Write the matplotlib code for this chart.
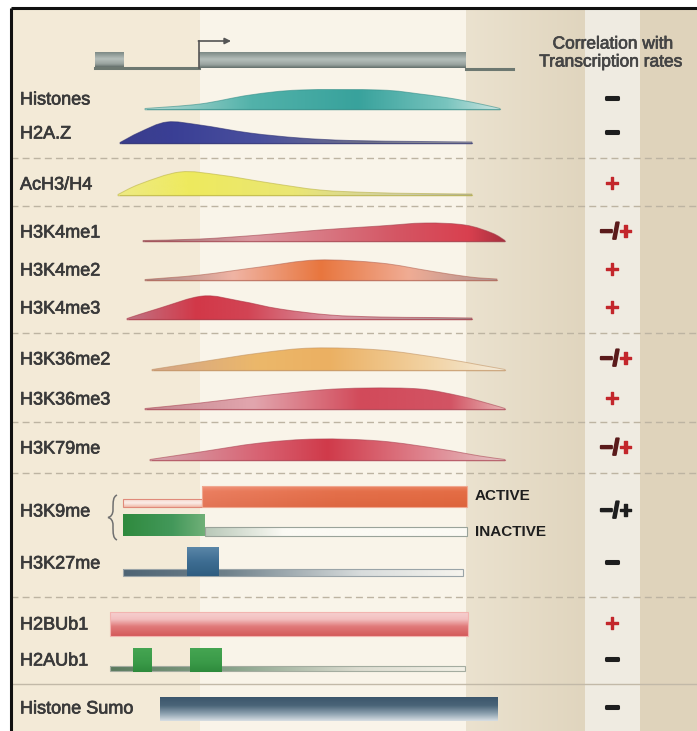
import numpy as np
import matplotlib
matplotlib.use("Agg")
import matplotlib.pyplot as plt
from matplotlib.path import Path
from matplotlib.patches import PathPatch, Rectangle
from matplotlib.colors import LinearSegmentedColormap
import matplotlib.patheffects as pe

plt.rcParams['font.family'] = ['Liberation Sans', 'DejaVu Sans']

# ---------------- data ----------------
track_names = ["Histones", "H2A.Z", "AcH3/H4", "H3K4me1", "H3K4me2", "H3K4me3",
               "H3K36me2", "H3K36me3", "H3K79me", "H3K9me", "H3K27me",
               "H2BUb1", "H2AUb1", "Histone Sumo"]
track_rows = [100, 134, 185, 233, 271, 309, 360, 400, 449, 512, 564, 625, 661, 709]
correlations = ["−", "−", "+", "−/+", "+", "+", "−/+", "+", "−/+", "−/+", "−",
                "+", "−", "−"]

separator_rows = [158, 206, 333, 422, 473, 597]
solid_separator_row = 684

# profile outlines: (position, height), with baseline
profile_names = ["Histones", "H2A.Z", "AcH3/H4", "H3K4me1", "H3K4me2", "H3K4me3",
                 "H3K36me2", "H3K36me3", "H3K79me"]
profile_baselines = [109, 143, 195, 241, 280, 319, 370, 409, 460]
profile_points = [
    [(145, 0.5), (200, 5), (250, 14), (300, 19), (380, 19), (420, 15), (455, 10), (485, 4), (500, 0.5)],
    [(120, 0.5), (140, 11), (167, 21), (200, 18), (250, 10), (300, 5), (350, 2.5), (420, 1.5), (472, 1)],
    [(118, 0.5), (140, 11), (180, 23), (220, 20), (270, 12), (320, 5), (370, 2.5), (420, 1.5), (472, 1)],
    [(143, 0.5), (200, 2), (260, 6), (320, 11), (380, 15), (425, 18), (465, 16), (492, 8), (505, 0.5)],
    [(145, 0.5), (200, 5), (260, 13), (317, 20), (380, 17), (430, 9), (470, 3), (497, 1)],
    [(127, 0.5), (160, 11), (203, 23), (240, 18), (280, 10), (330, 4), (380, 2), (430, 1.5), (472, 1)],
    [(152, 0.5), (200, 8), (260, 17), (313, 22), (380, 20), (440, 12), (480, 5), (505, 0.5)],
    [(145, 0.5), (200, 6), (260, 13), (320, 19), (367, 21), (420, 20), (460, 13), (490, 5), (505, 0.5)],
    [(150, 0.5), (200, 8), (260, 17), (317, 21), (380, 19), (440, 11), (480, 4), (505, 0.5)],
]
profile_gradients = [
    [(0, '#b9dcd5'), (0.3, '#52b2aa'), (0.6, '#38a29c'), (0.85, '#78c4be'), (1, '#cde6e2')],
    [(0, '#3a3d8c'), (0.15, '#3a3f95'), (0.4, '#4a509e'), (0.7, '#6f7088'), (1, '#a0a0a0')],
    [(0, '#eeea84'), (0.2, '#eeea5e'), (0.5, '#eae674'), (0.8, '#cfcea8'), (1, '#b4b4a4')],
    [(0, '#9a7070'), (0.3, '#dc98a0'), (0.7, '#d45664'), (0.9, '#d9404f'), (1, '#a8303f')],
    [(0, '#a88888'), (0.25, '#f0b4a4'), (0.5, '#e8763e'), (0.75, '#f0ac94'), (1, '#b09494')],
    [(0, '#c07484'), (0.2, '#d23848'), (0.35, '#d24454'), (0.6, '#da96a4'), (1, '#a09494')],
    [(0, '#d4a688'), (0.3, '#ecb86a'), (0.5, '#ebb062'), (0.8, '#f2d4a6'), (1, '#f4ecdc')],
    [(0, '#c48890'), (0.3, '#e2a6ae'), (0.6, '#d24a5a'), (0.85, '#d25464'), (1, '#e8b4b4')],
    [(0, '#d6a8b0'), (0.3, '#d86474'), (0.5, '#d03a4a'), (0.8, '#e08a94'), (1, '#e4c4c4')],
]
profile_edges = ['#2f8a85', '#2a2d70', '#b8b040', '#a0404c', '#b06050', '#a83040',
                 '#c09060', '#a84050', '#a84050']

# gene model
exon_upstream = [95, 124, 52, 67]
gene_body = [199, 466, 52, 68]
gene_line = [95, 513]
tss_x = 199

# H3K9me / H3K27me / ubiquitin / sumo bars  [x0, x1, y0, y1]
k9_active_bar = [202, 467, 486, 507]
k9_active_tube = [123, 202, 499, 507]
k9_inactive_bar = [123, 205, 514, 536]
k9_inactive_tube = [205, 467, 527, 536]
k27_tube = [123, 463, 569, 576]
k27_box = [187, 219, 547, 576]
h2bub1_bar = [110, 468, 612, 636]
h2aub1_tube = [110, 465, 666, 671]
h2aub1_boxes = [[133, 152, 648, 672], [190, 222, 648, 672]]
sumo_bar = [160, 498, 697, 721]

# background column edges and colors
bg_edges = [11, 200, 466, 585, 640, 697]
bg_colors = ['#f3ead7', '#f9f4e9', '#e6dcc7', '#efebe1', '#dfd3bb']

# ---------------- drawing ----------------
W, H = 697, 731
fig = plt.figure(figsize=(W / 100, H / 100), dpi=100, facecolor='white')
ax = fig.add_axes([0, 0, 1, 1])
ax.axis('off')


def make_cmap(stops):
    return LinearSegmentedColormap.from_list('g', stops)


def grad_rect(x0, x1, y0, y1, stops, vertical=False, clip=None, z=2):
    v = np.linspace(0, 1, 256)
    img = v.reshape(-1, 1) if vertical else v.reshape(1, -1)
    im = ax.imshow(img, extent=(x0, x1, y1, y0), cmap=make_cmap(stops),
                   aspect='auto', interpolation='bicubic', zorder=z, origin='upper')
    if clip is not None:
        im.set_clip_path(clip)
    return im


# background
for i, c in enumerate(bg_colors):
    if i == 2:
        grad_rect(bg_edges[i], bg_edges[i + 1], 8, H, [(0, '#ebe2cf'), (1, '#e0d5be')], z=0)
    else:
        ax.add_patch(Rectangle((bg_edges[i], 8), bg_edges[i + 1] - bg_edges[i], H - 8,
                               facecolor=c, edgecolor='none', zorder=0))

# separators
for y in separator_rows:
    ax.plot([11, W], [y, y], color='#bdb4a2', lw=1, ls=(0, (5, 3)), zorder=1)
ax.plot([11, W], [solid_separator_row] * 2, color='#c2b9a8', lw=1, zorder=1)

# border
ax.plot([11, W], [8, 8], color='#111111', lw=2.2, zorder=10, solid_capstyle='butt')
ax.plot([11, 11], [8, H], color='#111111', lw=2.2, zorder=10, solid_capstyle='butt')

# gene model
ax.plot([gene_line[0], tss_x], [68, 68], color='#6d7871', lw=2.2, zorder=3)
ax.plot([gene_body[1], gene_line[1]], [68.5, 68.5], color='#6d7871', lw=2.2, zorder=3)
box_stops = [(0, '#7b8884'), (0.45, '#b6bfbb'), (0.8, '#98a29e'), (1, '#5f6b67')]
for b in (exon_upstream, gene_body):
    grad_rect(b[0], b[1], b[2], b[3], box_stops, vertical=True, z=3)
ax.plot([tss_x, tss_x], [68, 41], color='#555555', lw=1.2, zorder=4)
ax.annotate('', xy=(231, 41), xytext=(tss_x - 0.6, 41),
            arrowprops=dict(arrowstyle='-|>', color='#555555', lw=1.2,
                            mutation_scale=9, shrinkA=0, shrinkB=0), zorder=4)

# header
hdr_fx = [pe.withStroke(linewidth=0.5, foreground='#454545')]
ax.text(613, 44, "Correlation with", ha='center', va='center', fontsize=12.5,
        color='#454545', zorder=5, path_effects=hdr_fx)
ax.text(611, 62, "Transcription rates", ha='center', va='center', fontsize=12.5,
        color='#454545', zorder=5, path_effects=hdr_fx)


def profile_path(pts, base):
    P = np.array([(x, base - h) for x, h in pts], dtype=float)
    n = len(P)
    verts = [P[0]]
    codes = [Path.MOVETO]
    for i in range(n - 1):
        p0 = P[max(i - 1, 0)]
        p1 = P[i]
        p2 = P[i + 1]
        p3 = P[min(i + 2, n - 1)]
        c1 = p1 + (p2 - p0) / 6.0
        c2 = p2 - (p3 - p1) / 6.0
        verts += [c1, c2, p2]
        codes += [Path.CURVE4] * 3
    verts += [(P[-1][0], base + 0.8), (P[0][0], base + 0.8), P[0]]
    codes += [Path.LINETO, Path.LINETO, Path.CLOSEPOLY]
    return Path(verts, codes)


for pts, base, stops, ec in zip(profile_points, profile_baselines, profile_gradients,
                                profile_edges):
    path = profile_path(pts, base)
    patch = PathPatch(path, facecolor='none', edgecolor=ec, lw=0.7, alpha=0.55, zorder=4)
    ax.add_patch(patch)
    clip = PathPatch(path, facecolor='none', edgecolor='none', transform=ax.transData)
    ax.add_patch(clip)
    x0 = pts[0][0]
    x1 = pts[-1][0]
    top = base - max(h for _, h in pts) - 1
    grad_rect(x0, x1, top, base + 1, stops, clip=clip, z=3)
    ax.plot([x0 + 2, x1], [base, base], color=ec, lw=0.8, alpha=0.5, zorder=4)


def tube(b, stops, ec, vertical=False, z=3, lw=0.8):
    grad_rect(b[0], b[1], b[2], b[3], stops, vertical=vertical, z=z)
    ax.add_patch(Rectangle((b[0], b[2]), b[1] - b[0], b[3] - b[2], facecolor='none',
                           edgecolor=ec, lw=lw, zorder=z + 0.1))


# H3K9me
tube(k9_active_tube, [(0, '#f6d8d0'), (0.5, '#fbeee8'), (1, '#f0b8a8')], '#e08a7a', vertical=True)
grad_rect(k9_active_bar[0], k9_active_bar[1], k9_active_bar[2], k9_active_bar[3],
          [(0, '#ee8a74'), (0.5, '#e36e4a'), (1, '#e2683e')], z=3)
grad_rect(k9_active_bar[0], k9_active_bar[1], k9_active_bar[2], k9_active_bar[3],
          [(0, '#f4a48c'), (0.25, '#e8744e'), (1, '#d8603a')], vertical=True, z=3.05).set_alpha(0.5)
ax.add_patch(Rectangle((k9_active_bar[0], k9_active_bar[2]), k9_active_bar[1] - k9_active_bar[0],
                       k9_active_bar[3] - k9_active_bar[2], facecolor='none',
                       edgecolor='#f0a890', lw=0.8, zorder=3.1))
tube(k9_inactive_tube, [(0, '#b8c8b8'), (0.3, '#fbfaf4'), (1, '#fbfaf4')], '#9aa39a')
grad_rect(k9_inactive_bar[0], k9_inactive_bar[1], k9_inactive_bar[2], k9_inactive_bar[3],
          [(0, '#2f8a3e'), (0.6, '#43985a'), (1, '#70b078')], z=3)

# brace
bx = 112
brace = Path([(bx + 5, 495), (bx + 1, 497), (bx + 1, 501), (bx + 1, 510),
              (bx + 1, 514), (bx - 1, 517), (bx - 4, 517.5),
              (bx - 1, 518), (bx + 1, 521), (bx + 1, 525),
              (bx + 1, 534), (bx + 1, 538), (bx + 5, 540)],
             [Path.MOVETO, Path.CURVE4, Path.CURVE4, Path.CURVE4,
              Path.CURVE4, Path.CURVE4, Path.CURVE4,
              Path.CURVE4, Path.CURVE4, Path.CURVE4,
              Path.CURVE4, Path.CURVE4, Path.CURVE4])
ax.add_patch(PathPatch(brace, facecolor='none', edgecolor='#707070', lw=1.1, zorder=4))

ax.text(475, 496, "ACTIVE", ha='left', va='center', fontsize=11, fontweight='bold',
        color='#1e1e1e', zorder=5)
ax.text(475, 532, "INACTIVE", ha='left', va='center', fontsize=11, fontweight='bold',
        color='#1e1e1e', zorder=5)

# H3K27me
tube(k27_tube, [(0, '#4e6474'), (0.3, '#6e808a'), (0.7, '#d8dcdc'), (1, '#f6f4ee')], '#9aa4a8')
grad_rect(k27_box[0], k27_box[1], k27_box[2], k27_box[3],
          [(0, '#5a86a8'), (0.5, '#3d6d92'), (1, '#2f5d80')], vertical=True, z=3.2)

# H2BUb1
grad_rect(h2bub1_bar[0], h2bub1_bar[1], h2bub1_bar[2], h2bub1_bar[3],
          [(0, '#f6d0d0'), (0.3, '#f3c0c0'), (0.6, '#e07a7a'), (1, '#d45a5a')],
          vertical=True, z=3)
ax.add_patch(Rectangle((h2bub1_bar[0], h2bub1_bar[2]), h2bub1_bar[1] - h2bub1_bar[0],
                       h2bub1_bar[3] - h2bub1_bar[2], facecolor='none',
                       edgecolor='#f2b4b0', lw=0.8, zorder=3.1))

# H2AUb1
tube(h2aub1_tube, [(0, '#5a7a5e'), (0.35, '#8aa48c'), (0.7, '#dcdcd0'), (1, '#f2f0e6')], '#a4aca0')
for b in h2aub1_boxes:
    grad_rect(b[0], b[1], b[2], b[3], [(0, '#45a552'), (0.6, '#3a9a48'), (1, '#2e8a3c')],
              vertical=True, z=3.2)

# Histone Sumo
grad_rect(sumo_bar[0], sumo_bar[1], sumo_bar[2], sumo_bar[3],
          [(0, '#3c566c'), (0.35, '#4a6478'), (0.7, '#8ea2b0'), (1, '#d8dfe4')],
          vertical=True, z=3)

# labels and correlation signs
lbl_fx = [pe.withStroke(linewidth=0.5, foreground='#3a3a3a')]
for name, y, sign in zip(track_names, track_rows, correlations):
    ax.text(20, y, name, ha='left', va='center', fontsize=13, color='#3a3a3a', zorder=5,
            path_effects=lbl_fx)
    if sign == "+":
        ax.text(612, y, "+", ha='center', va='center', fontsize=16, fontweight='bold',
                color='#c3262b', zorder=5, path_effects=[pe.withStroke(linewidth=1.0, foreground='#c3262b')])
    elif sign == "−":
        ax.text(612, y, "−", ha='center', va='center', fontsize=16, fontweight='bold',
                color='#1e1e1e', zorder=5, path_effects=[pe.withStroke(linewidth=2.2, foreground='#1e1e1e')])
    else:
        dark = '#1e1e1e' if name == "H3K9me" else '#5a1a1a'
        plus = '#1e1e1e' if name == "H3K9me" else '#c3262b'
        ax.text(619, y, "−/", ha='right', va='center', fontsize=16, fontweight='bold',
                color=dark, zorder=5, path_effects=[pe.withStroke(linewidth=1.4, foreground=dark)])
        ax.text(619, y, "+", ha='left', va='center', fontsize=16, fontweight='bold',
                color=plus, zorder=5, path_effects=[pe.withStroke(linewidth=1.0, foreground=plus)])

ax.set_xlim(0, W)
ax.set_ylim(H, 0)
fig.savefig('out.png', dpi=100, facecolor='white')
